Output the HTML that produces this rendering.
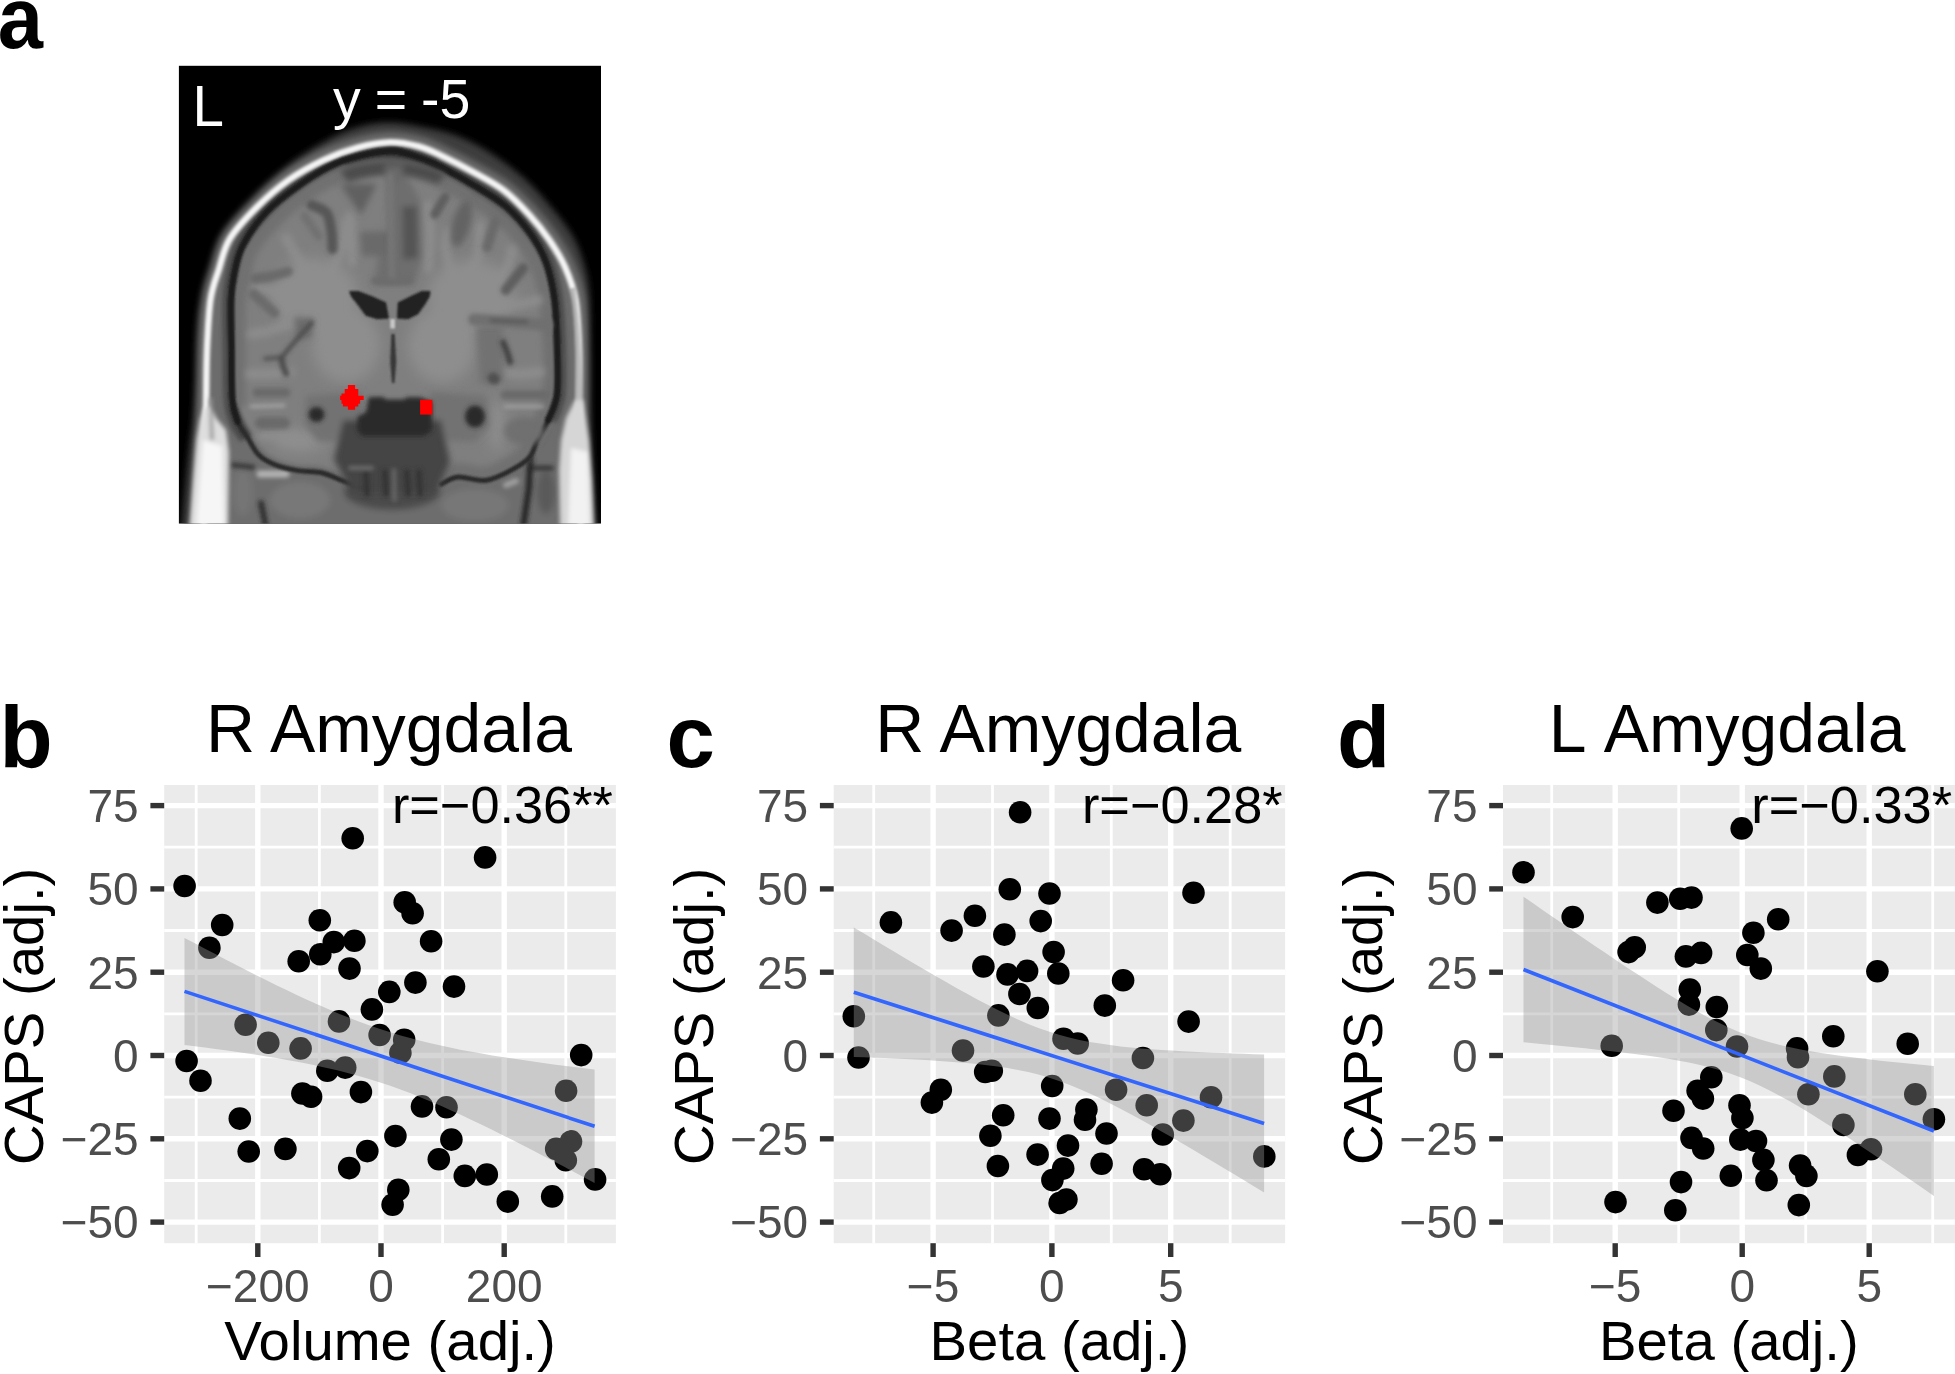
<!DOCTYPE html>
<html lang="en"><head><meta charset="utf-8"><title>Figure</title>
<style>html,body{margin:0;padding:0;background:#fff;width:1955px;height:1374px;overflow:hidden;}svg{display:block;font-family:"Liberation Sans", Arial, Helvetica, sans-serif;}text{white-space:pre;}</style></head><body>
<svg width="1955" height="1374" viewBox="0 0 1955 1374">
<rect width="1955" height="1374" fill="#fff"/>
<text transform="translate(-2.3,47.6) scale(0.925,1)" font-size="88" font-weight="bold" fill="#000">a</text>
<defs>
<clipPath id="mribox"><rect x="178.9" y="65.8" width="422.1" height="457.7"/></clipPath>
<clipPath id="brainclip"><path d="M238.5,400C237.6,388.5 238.2,366.7 238.2,350C238.2,333.3 237.7,312 238.5,300C239.3,288 240.9,286.3 243,278C245.1,269.7 245.3,260 251,250C256.7,240 267.8,227.3 277,218C286.2,208.7 295.7,201.1 306,194C316.3,186.9 328.2,180.1 339,175.5C349.8,170.9 361.7,168.2 371,166.5C380.3,164.8 387.2,164.8 395,165.5C402.8,166.2 411.2,168.4 418,170.5C424.8,172.6 427.3,173.8 435.5,178C443.7,182.2 456.4,189.1 467,195.5C477.6,201.9 489.9,209.1 499,216.5C508.1,223.9 515.1,231.8 521.5,240C527.9,248.2 533.3,255.8 537.5,266C541.7,276.2 544.4,287 546.5,301C548.6,315 549.7,334.5 550.3,350C550.9,365.5 551.3,382.8 550,394C548.7,405.2 545.5,409.9 542.5,417C539.5,424.1 534.9,430.6 532,436.5C529.1,442.4 528.5,448.2 525,452.5C521.5,456.8 517.5,458.9 511,462.5C504.5,466.1 494.8,472.7 486,474C477.2,475.3 465.5,469.8 458,470.5C450.5,471.2 450.7,475.9 441,478C431.3,480.1 412.5,482.4 400,483C387.5,483.6 375.2,482.9 366,481.5C356.8,480.1 352.5,477 345,474.5C337.5,472 328.7,468.1 321,466.5C313.3,464.9 306.2,466.2 299,465C291.8,463.8 284,462 278,459.5C272,457 267.3,454.2 263,450C258.7,445.8 255.2,439.2 252,434C248.8,428.8 245.8,424.7 243.5,419C241.2,413.3 239.4,411.5 238.5,400Z"/></clipPath>
<filter id="b1" x="-30%" y="-30%" width="160%" height="160%"><feGaussianBlur stdDeviation="1.3"/></filter>
<filter id="b2" x="-30%" y="-30%" width="160%" height="160%"><feGaussianBlur stdDeviation="2.2"/></filter>
<filter id="b3" x="-30%" y="-30%" width="160%" height="160%"><feGaussianBlur stdDeviation="3.4"/></filter>
<filter id="b4" x="-30%" y="-30%" width="160%" height="160%"><feGaussianBlur stdDeviation="6.5"/></filter>
</defs>
<g id="mri">
<rect x="178.9" y="65.8" width="422.1" height="457.7" fill="#000"/>
<g clip-path="url(#mribox)">
<g filter="url(#b3)">
<path d="M180,545C180.3,541.3 181,533.8 182,523C183,512.2 184.8,492.7 186,480C187.2,467.3 188.3,457 189.5,447C190.7,437 192,431.2 193,420C194,408.8 194.9,393.3 195.5,380C196.1,366.7 195.9,351.7 196.5,340C197.1,328.3 197.7,318.7 199,310C200.3,301.3 202.5,295 204.5,288C206.5,281 208.1,275.7 211,268C213.9,260.3 216.5,251.8 222.1,241.6C227.7,231.4 235.2,218.3 244.8,206.7C254.4,195.1 268.2,181.7 279.8,171.8C291.4,161.9 303.1,154.3 314.7,147.3C326.3,140.3 337.9,133.9 349.6,129.8C361.3,125.7 373.3,123.1 385,122.5C396.7,121.9 408.3,124.3 419.9,126.4C431.5,128.5 443.1,130.8 454.8,135.1C466.5,139.4 478.1,145.2 489.8,152.5C501.5,159.8 514.5,169.7 524.7,178.7C534.9,187.7 543,197.4 550.9,206.7C558.8,216 566.4,225.4 571.8,234.6C577.2,243.8 580.5,251.9 583.5,262C586.5,272.1 588.4,280.3 589.5,295C590.6,309.7 589.8,329.2 590,350C590.2,370.8 589.9,398.3 590.5,420C591.1,441.7 592.5,462.8 593.5,480C594.5,497.2 595.8,512.2 596.5,523C597.2,533.8 597.8,541.3 598,545Z" fill="#3e3e3e"/>
<path d="M204,545C204,532.5 203.7,492.5 204,470C204.3,447.5 205.5,430 206,410C206.5,390 206.2,368.3 207,350C207.8,331.7 208.6,313.3 210.5,300C212.4,286.7 215.4,280.2 218.7,270C221.9,259.8 223.5,249.1 230,238.5C236.5,227.9 247.8,216.2 257.5,206.5C267.2,196.8 277.3,188 288.2,180.3C299.1,172.6 311.5,165.8 323.1,160.3C334.8,154.8 347,150.5 358.1,147.5C369.2,144.5 379.9,142.5 390,142.3C400.1,142.1 410.5,144.3 419,146.5C427.5,148.7 432,151.2 441,155.5C450,159.8 462.6,166.2 473.1,172C483.6,177.8 494.7,183.4 504,190.5C513.3,197.6 521.5,206.3 529,214.5C536.5,222.7 543,230.8 549,239.5C555,248.2 560.6,256.9 565,267C569.4,277.1 573.2,286.2 575.5,300C577.8,313.8 578.4,331.7 579,350C579.6,368.3 578.8,390 579,410C579.2,430 579.7,447.5 580,470C580.3,492.5 580.8,532.5 581,545" fill="none" stroke="#6c6c6c" stroke-width="19"/>
</g>
<g filter="url(#b1)">
<path d="M204,545C204,532.5 203.7,492.5 204,470C204.3,447.5 205.5,430 206,410C206.5,390 206.2,368.3 207,350C207.8,331.7 208.6,313.3 210.5,300C212.4,286.7 215.4,280.2 218.7,270C221.9,259.8 223.5,249.1 230,238.5C236.5,227.9 247.8,216.2 257.5,206.5C267.2,196.8 277.3,188 288.2,180.3C299.1,172.6 311.5,165.8 323.1,160.3C334.8,154.8 347,150.5 358.1,147.5C369.2,144.5 379.9,142.5 390,142.3C400.1,142.1 410.5,144.3 419,146.5C427.5,148.7 432,151.2 441,155.5C450,159.8 462.6,166.2 473.1,172C483.6,177.8 494.7,183.4 504,190.5C513.3,197.6 521.5,206.3 529,214.5C536.5,222.7 543,230.8 549,239.5C555,248.2 560.6,256.9 565,267C569.4,277.1 573.2,286.2 575.5,300C577.8,313.8 578.4,331.7 579,350C579.6,368.3 578.8,390 579,410C579.2,430 579.7,447.5 580,470C580.3,492.5 580.8,532.5 581,545Z" fill="#6c6c6c"/>
</g>
<g filter="url(#b3)">
<path d="M236,425 L548,425 L566,470 L566,545 L222,545 L226,470Z" fill="#6d6d6d"/>
<ellipse cx="300" cy="500" rx="30" ry="18" fill="#787878"/>
<ellipse cx="475" cy="505" rx="34" ry="16" fill="#777"/>
<ellipse cx="392" cy="492" rx="48" ry="18" fill="#4c4c4c"/>
<ellipse cx="546" cy="492" rx="9" ry="22" fill="#5a5a5a"/>
<ellipse cx="243" cy="492" rx="10" ry="24" fill="#747474"/>
</g>
<g filter="url(#b2)" fill="none" stroke-linecap="round">
<path d="M261,503 L265.5,525" stroke="#2c2c2c" stroke-width="5.5"/>
<path d="M233,465 L253,467.3" stroke="#383838" stroke-width="5"/>
<path d="M531,468 L551.5,468" stroke="#383838" stroke-width="5"/>
<path d="M530.2,458 L529,487.5 L523.4,525" stroke="#282828" stroke-width="6.5"/>
<path d="M260,474 L286,474" stroke="#b4b4b4" stroke-width="7"/>
<path d="M506,485 L516,481" stroke="#a0a0a0" stroke-width="6"/>
</g>
<g filter="url(#b2)">
<path d="M247.5,437.5C245.8,434.8 240,427.8 237.5,421.5C235,415.2 233.3,411.9 232.3,400C231.3,388.1 231.7,366.7 231.5,350C231.3,333.3 230.6,312.5 231,300C231.4,287.5 232.1,284 234,275C235.9,266 237.1,256.5 242.5,246C247.9,235.5 256.9,222.2 266.5,212C276.1,201.8 288.5,192.7 299.9,184.7C311.3,176.7 323.2,169.2 334.8,164C346.4,158.8 359.7,155.7 369.7,153.5C379.7,151.3 386.6,150.3 395,151C403.4,151.7 412.4,155.2 420,157.8C427.6,160.4 431.6,162.3 440.5,166.8C449.4,171.3 462.2,178.2 473.1,184.8C484,191.4 496.5,198.4 506,206.5C515.5,214.6 523.3,223.8 530,233.1C536.7,242.4 541.9,251.2 546,262.3C550.1,273.4 552.7,285.4 554.6,300C556.5,314.6 556.9,334.2 557.3,350C557.7,365.8 558.5,383.3 557,395C555.5,406.7 549.7,415.8 548.2,420" fill="none" stroke="#484848" stroke-width="17"/>
<path d="M470,194 Q501,210 527,242" fill="none" stroke="#4e4e4e" stroke-width="16"/>
<path d="M346,166 Q395,149.5 440,171" fill="none" stroke="#2c2c2c" stroke-width="11"/>
</g>
<g filter="url(#b1)">
<path d="M204,545C204,532.5 203.7,492.5 204,470C204.3,447.5 205.5,430 206,410C206.5,390 206.2,368.3 207,350C207.8,331.7 208.6,313.3 210.5,300C212.4,286.7 215.4,280.2 218.7,270C221.9,259.8 223.5,249.1 230,238.5C236.5,227.9 247.8,216.2 257.5,206.5C267.2,196.8 277.3,188 288.2,180.3C299.1,172.6 311.5,165.8 323.1,160.3C334.8,154.8 347,150.5 358.1,147.5C369.2,144.5 379.9,142.5 390,142.3C400.1,142.1 410.5,144.3 419,146.5C427.5,148.7 432,151.2 441,155.5C450,159.8 462.6,166.2 473.1,172C483.6,177.8 494.7,183.4 504,190.5C513.3,197.6 521.5,206.3 529,214.5C536.5,222.7 543,230.8 549,239.5C555,248.2 560.6,256.9 565,267C569.4,277.1 573.2,286.2 575.5,300C577.8,313.8 578.4,331.7 579,350C579.6,368.3 578.8,390 579,410C579.2,430 579.7,447.5 580,470C580.3,492.5 580.8,532.5 581,545" fill="none" stroke="#a8a8a8" stroke-width="8.6"/>
<path d="M204,545C204,532.5 203.7,492.5 204,470C204.3,447.5 205.5,430 206,410C206.5,390 206.2,368.3 207,350C207.8,331.7 208.6,313.3 210.5,300C212.4,286.7 215.4,280.2 218.7,270C221.9,259.8 223.5,249.1 230,238.5C236.5,227.9 247.8,216.2 257.5,206.5C267.2,196.8 277.3,188 288.2,180.3C299.1,172.6 311.5,165.8 323.1,160.3C334.8,154.8 347,150.5 358.1,147.5C369.2,144.5 379.9,142.5 390,142.3C400.1,142.1 410.5,144.3 419,146.5C427.5,148.7 432,151.2 441,155.5C450,159.8 462.6,166.2 473.1,172C483.6,177.8 494.7,183.4 504,190.5C513.3,197.6 521.5,206.3 529,214.5C536.5,222.7 543,230.8 549,239.5C555,248.2 560.6,256.9 565,267C569.4,277.1 573.2,286.2 575.5,300C577.8,313.8 578.4,331.7 579,350C579.6,368.3 578.8,390 579,410C579.2,430 579.7,447.5 580,470C580.3,492.5 580.8,532.5 581,545" fill="none" stroke="#f4f4f4" stroke-width="4.6"/>
<path d="M572,288 Q579,330 579,408" fill="none" stroke="#8c8c8c" stroke-opacity="0.55" stroke-width="5.5"/>
</g>
<g filter="url(#b2)">
<path d="M238.5,400C237.6,388.5 238.2,366.7 238.2,350C238.2,333.3 237.7,312 238.5,300C239.3,288 240.9,286.3 243,278C245.1,269.7 245.3,260 251,250C256.7,240 267.8,227.3 277,218C286.2,208.7 295.7,201.1 306,194C316.3,186.9 328.2,180.1 339,175.5C349.8,170.9 361.7,168.2 371,166.5C380.3,164.8 387.2,164.8 395,165.5C402.8,166.2 411.2,168.4 418,170.5C424.8,172.6 427.3,173.8 435.5,178C443.7,182.2 456.4,189.1 467,195.5C477.6,201.9 489.9,209.1 499,216.5C508.1,223.9 515.1,231.8 521.5,240C527.9,248.2 533.3,255.8 537.5,266C541.7,276.2 544.4,287 546.5,301C548.6,315 549.7,334.5 550.3,350C550.9,365.5 551.3,382.8 550,394C548.7,405.2 545.5,409.9 542.5,417C539.5,424.1 534.9,430.6 532,436.5C529.1,442.4 528.5,448.2 525,452.5C521.5,456.8 517.5,458.9 511,462.5C504.5,466.1 494.8,472.7 486,474C477.2,475.3 465.5,469.8 458,470.5C450.5,471.2 450.7,475.9 441,478C431.3,480.1 412.5,482.4 400,483C387.5,483.6 375.2,482.9 366,481.5C356.8,480.1 352.5,477 345,474.5C337.5,472 328.7,468.1 321,466.5C313.3,464.9 306.2,466.2 299,465C291.8,463.8 284,462 278,459.5C272,457 267.3,454.2 263,450C258.7,445.8 255.2,439.2 252,434C248.8,428.8 245.8,424.7 243.5,419C241.2,413.3 239.4,411.5 238.5,400Z" fill="#7f7f7f"/>
</g>
<g>
<g filter="url(#b3)" fill="none" stroke-linecap="round" stroke-linejoin="round">
<path d="M238.5,400C238.4,391.7 238.2,366.7 238.2,350C238.2,333.3 237.7,312 238.5,300C239.3,288 240.9,286.3 243,278C245.1,269.7 245.3,260 251,250C256.7,240 267.8,227.3 277,218C286.2,208.7 295.7,201.1 306,194C316.3,186.9 328.2,180.1 339,175.5C349.8,170.9 361.7,168.2 371,166.5C380.3,164.8 387.2,164.8 395,165.5C402.8,166.2 411.2,168.4 418,170.5C424.8,172.6 427.3,173.8 435.5,178C443.7,182.2 456.4,189.1 467,195.5C477.6,201.9 489.9,209.1 499,216.5C508.1,223.9 515.1,231.8 521.5,240C527.9,248.2 533.3,255.8 537.5,266C541.7,276.2 544.4,287 546.5,301C548.6,315 549.7,334.5 550.3,350C550.9,365.5 551.3,382.8 550,394C548.7,405.2 545.5,409.9 542.5,417C539.5,424.1 534.9,430.6 532,436.5C529.1,442.4 528.5,448.2 525,452.5C521.5,456.8 517.5,458.9 511,462.5C504.5,466.1 494.8,472.7 486,474C477.2,475.3 465.5,469.8 458,470.5C450.5,471.2 443.8,476.8 441,478" stroke="#717171" stroke-width="15"/>
</g>
<g filter="url(#b3)" fill="none" stroke="#8c8c8c" stroke-linecap="round" stroke-width="10">
<path d="M318,286C315,282 305.3,270 300,262C294.7,254 288.3,242 286,238"/>
<path d="M330,276C332,271 339.3,255 342,246C344.7,237 345.3,226 346,222"/>
<path d="M300,300C296,298.7 283,294 276,292C269,290 261,288.7 258,288"/>
<path d="M300,318C295.3,320 280,327.3 272,330C264,332.7 255.3,333.3 252,334"/>
<path d="M352,262C352,258 352.3,245.7 352,238C351.7,230.3 350.3,219.7 350,216"/>
<path d="M466,282C468,277.7 475.7,265.3 478,256C480.3,246.7 479.7,231 480,226"/>
<path d="M452,276C451,271.7 446.7,257.3 446,250C445.3,242.7 447.7,235 448,232"/>
<path d="M486,292C489.3,288.3 501.7,277 506,270C510.3,263 511,253.3 512,250"/>
<path d="M492,306C496.7,305.7 512.3,305 520,304C527.7,303 535,300.7 538,300"/>
<path d="M428,268C428.3,262.7 430,246.3 430,236C430,225.7 428.3,211 428,206"/>
<path d="M290,372C286.3,372.3 274.7,373.7 268,374C261.3,374.3 253,374 250,374"/>
<path d="M300,440C296.7,439.3 286.3,436.7 280,436C273.7,435.3 265,436 262,436"/>
<path d="M497,372C500.8,372.3 512.8,374 520,374C527.2,374 536.7,372.3 540,372"/>
</g>
<g filter="url(#b1)">
<path d="M365.7,488C361.9,486.8 350.7,483.4 343.2,480.8C335.7,478.2 328.2,474.2 320.7,472.5C313.2,470.8 305.7,471.9 298.2,470.6C290.7,469.4 282.3,467.6 275.7,465C269.1,462.4 263.5,459.6 258.8,455C254.1,450.4 251.1,443.1 247.5,437.5C243.9,431.9 240,427.8 237.5,421.5C235,415.2 233.2,403.6 232.3,400" fill="none" stroke="#2a2a2a" stroke-width="5" stroke-linecap="round"/>
<path d="M557,395C555.5,399.2 551.5,412.6 548.2,420C545,427.4 540.5,433 537.5,439.1C534.5,445.2 534.1,451.6 530.2,456.5C526.4,461.4 521.7,464.4 514.4,468.4C507.1,472.4 495.7,478.9 486.3,480.3C476.9,481.7 465.6,476.4 458.1,477C450.6,477.6 444.1,482.9 441.3,484.1" fill="none" stroke="#2a2a2a" stroke-width="5" stroke-linecap="round"/>
<path d="M237.5,421.5C236.6,417.9 233.3,411.9 232.3,400C231.3,388.1 231.7,366.7 231.5,350C231.3,333.3 230.6,312.5 231,300C231.4,287.5 232.1,284 234,275C235.9,266 237.1,256.5 242.5,246C247.9,235.5 256.9,222.2 266.5,212C276.1,201.8 288.5,192.7 299.9,184.7C311.3,176.7 323.2,169.2 334.8,164C346.4,158.8 359.7,155.7 369.7,153.5C379.7,151.3 386.6,150.3 395,151C403.4,151.7 412.4,155.2 420,157.8C427.6,160.4 431.6,162.3 440.5,166.8C449.4,171.3 462.2,178.2 473.1,184.8C484,191.4 496.5,198.4 506,206.5C515.5,214.6 523.3,223.8 530,233.1C536.7,242.4 541.9,251.2 546,262.3C550.1,273.4 552.7,285.4 554.6,300C556.5,314.6 556.9,334.2 557.3,350C557.7,365.8 558.5,383.3 557,395C555.5,406.7 549.7,415.8 548.2,420" fill="none" stroke="#1c1c1c" stroke-width="6.8" stroke-linecap="round"/>
</g>
<g filter="url(#b4)" fill="#8e8e8e">
<ellipse cx="314" cy="296" rx="44" ry="38"/>
<ellipse cx="472" cy="296" rx="44" ry="36"/>
<ellipse cx="346" cy="345" rx="34" ry="38"/>
<ellipse cx="442" cy="345" rx="34" ry="38"/>
<ellipse cx="300" cy="440" rx="28" ry="12"/>
<ellipse cx="497" cy="425" rx="8" ry="26"/>
</g>
<g filter="url(#b3)">
<path d="M386,168 L404,170 L420,200 L422,258 L414,284 L374,284 L378,258 L388,240Z" fill="#6e6e6e"/>
<path d="M360,232 L390,231 L391,256 L362,256Z" fill="#6a6a6a"/>
<path d="M402,206 L417,206 L418,258 L403,260Z" fill="#545454"/>
<path d="M340,170 Q394,150 446,174 L438,184 Q394,166 348,182Z" fill="#4c4c4c"/>
<path d="M384,166 L404,166 L398,184 L389,184Z" fill="#6a6a6a"/>
<path d="M340,184 L377,184 L361,215Z" fill="#606060"/>
<ellipse cx="461.5" cy="223.5" rx="9" ry="24" transform="rotate(15 461.5 223.5)" fill="#646464"/>
<path d="M476,326 L503,326 L504,382 L480,384Z" fill="#727272"/>
<path d="M294,317 L314,318 L312,338 L296,340Z" fill="#6c6c6c"/>
<ellipse cx="524" cy="431" rx="20" ry="14" fill="#707070"/>
<path d="M306,396 L362,392 L366,440 L318,442 L304,424Z" fill="#727272"/>
<path d="M430,392 L486,396 L490,426 L474,442 L428,440Z" fill="#727272"/>
<path d="M343,420 L441,420 L450,462 L436,492 L352,492 L334,460Z" fill="#454545"/>
</g>
<g filter="url(#b2)" fill="none" stroke-linecap="round" stroke-linejoin="round">
<path d="M390.5,176C390.6,185 390.8,212.2 391,230C391.2,247.8 391.8,274.2 392,283" stroke="#767676" stroke-width="6"/>
<path d="M374.5,281C377.4,281.2 386.2,282 392,282C397.8,282 406.6,281.2 409.5,281" stroke="#6c6c6c" stroke-width="7"/>
<path d="M311.5,205C314,206.3 323.3,208.5 326.6,213C329.9,217.5 330.5,226 331.5,232C332.5,238 332.3,246.2 332.5,249" stroke="#565656" stroke-width="10"/>
<path d="M304.5,216C306.8,219.3 316.2,232.7 318.5,236" stroke="#727272" stroke-width="9"/>
<path d="M255,278.5C257.8,278.1 266.5,277.2 272,276C277.5,274.8 285.3,272.2 288,271.5" stroke="#6a6a6a" stroke-width="10"/>
<path d="M253.6,294C257.1,297.2 271,309.8 274.5,313" stroke="#6c6c6c" stroke-width="10"/>
<path d="M445.2,197C443.4,199.9 436.4,211.6 434.7,214.5" stroke="#5e5e5e" stroke-width="9"/>
<path d="M495.3,221.5C493.9,225.8 488.5,242.8 487.1,247.1" stroke="#6a6a6a" stroke-width="10"/>
<path d="M523.2,268.1C520.3,271.8 508.6,286.5 505.7,290.2" stroke="#5e5e5e" stroke-width="10"/>
<path d="M474,319.5C480.3,319.9 499.8,321.1 512,322C524.2,322.9 541.2,324.5 547,325" stroke="#707070" stroke-width="12"/>
<path d="M491.5,320.5C497.3,320.7 520.6,321.6 526.4,321.8" stroke="#5a5a5a" stroke-width="4"/>
<path d="M503.1,342.4C503.8,344 505.8,348.7 507,352C508.2,355.3 509.6,360.5 510.1,362.2" stroke="#404040" stroke-width="6"/>
<path d="M493,378C493.2,378.2 494.2,378.8 494.5,379" stroke="#505050" stroke-width="11"/>
<path d="M311.8,322.6C308.7,326.1 298.2,337.8 293.1,343.6C288.1,349.4 283.4,355.2 281.5,357.5" stroke="#4a4a4a" stroke-width="4"/>
<path d="M281.5,357.5C278.8,357.7 267.9,358.5 265.2,358.7" stroke="#565656" stroke-width="4.5"/>
<path d="M281.5,357.5C281.8,358.9 282.2,363.3 283,366C283.8,368.7 285.7,372.5 286.2,373.8" stroke="#4c4c4c" stroke-width="6"/>
<path d="M257,392.5C261.8,392.5 281.2,392.5 286,392.5" stroke="#6a6a6a" stroke-width="9"/>
<path d="M251,406.4C256.5,406.2 278.5,405.6 284,405.5" stroke="#ababab" stroke-width="3"/>
<path d="M261,423C264.8,423 280.2,423 284,423" stroke="#6a6a6a" stroke-width="12"/>
<path d="M505,394.8C511.7,394.8 538.3,394.8 545,394.8" stroke="#6a6a6a" stroke-width="9"/>
<path d="M505,406.4C511.3,406.4 536.7,406.4 543,406.4" stroke="#a4a4a4" stroke-width="3"/>
</g>
<g filter="url(#b1)">
<path d="M349,290.9L358.4,290.9L371.5,296L386.1,302.6L389,318.6L377.3,319.3L365.7,315.7L357,304L351.1,296.8Z" fill="#242424"/>
<path d="M430.5,290.9L421.7,290.9L409.4,296.8L397.7,302.6L397,318.6L407.9,319.3L418.1,314.2L425.4,304L429.7,296.8Z" fill="#242424"/>
<rect x="390.2" y="319" width="4.8" height="9.5" fill="#c8c8c8"/>
<path d="M391.3,334 L394.7,334 L396.3,362 L394.5,383 L392,383 L390.2,362Z" fill="#383838"/>
</g>
<g filter="url(#b2)">
<path d="M368.7,397.2 L383,397 L386,399.5 L404,399.5 L407,397.2 L420.5,397.2 L432,402 L432,417 L431.7,431 L424,436 L362,436 L357.2,430 L357.5,417 L366,412Z" fill="#2a2a2a"/>
<ellipse cx="316.5" cy="414.5" rx="8" ry="7.5" fill="#2c2c2c"/>
<ellipse cx="475" cy="416.5" rx="10" ry="11" fill="#2b2b2b"/>
</g>
<g filter="url(#b2)" fill="none" stroke-linecap="round">
<path d="M366,472 L367,494" stroke="#363636" stroke-width="6"/>
<path d="M385,472 L386,494" stroke="#363636" stroke-width="6"/>
<path d="M407,472 L408,494" stroke="#363636" stroke-width="6"/>
<path d="M419,472 L420,494" stroke="#363636" stroke-width="6"/>
<path d="M394,470 L394.5,500" stroke="#6a6a6a" stroke-width="4"/>
<path d="M350,468 L372,468" stroke="#6e6e6e" stroke-width="4"/>
</g>
</g>
<g filter="url(#b2)">
<path d="M204,408 L211,406 L216,418 L226,430 L229,452 L228,530 L189,530 L193,480 L196.5,440 L200,420Z" fill="#dedede"/>
<path d="M203,440 L222,446 L224,530 L196,530Z" fill="#f6f6f6"/>
<path d="M209,398 L212,398 L214,440 L210,440Z" fill="#9a9a9a"/>
<path d="M575,400 L583,400 L589,440 L592,480 L594,530 L560,530 L559,470 L561,440 L566,418Z" fill="#d6d6d6"/>
<path d="M571,448 L588,452 L590,530 L568,530Z" fill="#f2f2f2"/>
</g>
</g>
<path d="M347.9,385L355.1,385L355.1,389L358.3,389L358.3,395.8L363.7,395.8L363.7,400.1L360.1,400.1L360.1,403.7L358.3,403.7L358.3,406.5L355.1,406.5L355.1,409.7L347.9,409.7L347.9,406.5L342.9,406.5L342.9,403.7L341.5,403.7L341.5,400.1L340.1,400.1L340.1,395.8L341.5,395.8L341.5,393.6L344.7,393.6L344.7,389L347.9,389Z" fill="#ff0000"/>
<rect x="420.1" y="399.8" width="12.3" height="14.8" fill="#ff0000"/>
<text x="192.4" y="126" font-size="56.5" fill="#fff">L</text>
<text x="333" y="118.2" font-size="55.5" word-spacing="-1.5" fill="#fff">y = -5</text>
</g>
<g class="panel" id="panel-b">
<rect x="164.2" y="785" width="451.7" height="458.2" fill="#ebebeb"/>
<g stroke="#fff" stroke-width="2.8">
<line x1="164.2" x2="615.9" y1="847.2" y2="847.2"/>
<line x1="164.2" x2="615.9" y1="930.5" y2="930.5"/>
<line x1="164.2" x2="615.9" y1="1013.9" y2="1013.9"/>
<line x1="164.2" x2="615.9" y1="1097.2" y2="1097.2"/>
<line x1="164.2" x2="615.9" y1="1180.5" y2="1180.5"/>
<line x1="196.2" x2="196.2" y1="785" y2="1243.2"/>
<line x1="319.4" x2="319.4" y1="785" y2="1243.2"/>
<line x1="442.6" x2="442.6" y1="785" y2="1243.2"/>
<line x1="565.8" x2="565.8" y1="785" y2="1243.2"/>
</g>
<g stroke="#fff" stroke-width="5.4">
<line x1="164.2" x2="615.9" y1="805.6" y2="805.6"/>
<line x1="164.2" x2="615.9" y1="888.9" y2="888.9"/>
<line x1="164.2" x2="615.9" y1="972.2" y2="972.2"/>
<line x1="164.2" x2="615.9" y1="1055.5" y2="1055.5"/>
<line x1="164.2" x2="615.9" y1="1138.8" y2="1138.8"/>
<line x1="164.2" x2="615.9" y1="1222.1" y2="1222.1"/>
<line x1="257.8" x2="257.8" y1="785" y2="1243.2"/>
<line x1="381" x2="381" y1="785" y2="1243.2"/>
<line x1="504.2" x2="504.2" y1="785" y2="1243.2"/>
</g>
<g fill="#000">
<circle cx="352.7" cy="838.2" r="11.3"/>
<circle cx="184.6" cy="886" r="11.3"/>
<circle cx="222.2" cy="925" r="11.3"/>
<circle cx="209.4" cy="947.7" r="11.3"/>
<circle cx="319.8" cy="920.3" r="11.3"/>
<circle cx="333.8" cy="942.1" r="11.3"/>
<circle cx="354.4" cy="940.7" r="11.3"/>
<circle cx="320.3" cy="954.3" r="11.3"/>
<circle cx="298.7" cy="961.3" r="11.3"/>
<circle cx="349.5" cy="968.6" r="11.3"/>
<circle cx="389.3" cy="991.9" r="11.3"/>
<circle cx="371.9" cy="1009.4" r="11.3"/>
<circle cx="485.1" cy="857.4" r="11.3"/>
<circle cx="404.7" cy="902.3" r="11.3"/>
<circle cx="412.6" cy="913.3" r="11.3"/>
<circle cx="431.1" cy="941.2" r="11.3"/>
<circle cx="415.4" cy="982.6" r="11.3"/>
<circle cx="454" cy="986.6" r="11.3"/>
<circle cx="245.6" cy="1024.8" r="11.3"/>
<circle cx="268.3" cy="1042.7" r="11.3"/>
<circle cx="300.6" cy="1048.4" r="11.3"/>
<circle cx="339" cy="1021.4" r="11.3"/>
<circle cx="379.6" cy="1035" r="11.3"/>
<circle cx="186.6" cy="1061" r="11.3"/>
<circle cx="200.5" cy="1080.7" r="11.3"/>
<circle cx="327.3" cy="1070.8" r="11.3"/>
<circle cx="345.2" cy="1067.6" r="11.3"/>
<circle cx="302.4" cy="1093.5" r="11.3"/>
<circle cx="311.1" cy="1096.8" r="11.3"/>
<circle cx="360.9" cy="1092.1" r="11.3"/>
<circle cx="239.8" cy="1118.6" r="11.3"/>
<circle cx="248.7" cy="1151.5" r="11.3"/>
<circle cx="285.4" cy="1148.9" r="11.3"/>
<circle cx="367.3" cy="1151.1" r="11.3"/>
<circle cx="349.2" cy="1168.1" r="11.3"/>
<circle cx="395.4" cy="1136.1" r="11.3"/>
<circle cx="398.3" cy="1189.8" r="11.3"/>
<circle cx="392.6" cy="1204.8" r="11.3"/>
<circle cx="404.2" cy="1039.7" r="11.3"/>
<circle cx="400.4" cy="1052.8" r="11.3"/>
<circle cx="581.2" cy="1055.1" r="11.3"/>
<circle cx="566.1" cy="1090.7" r="11.3"/>
<circle cx="422" cy="1106.4" r="11.3"/>
<circle cx="446.5" cy="1107.3" r="11.3"/>
<circle cx="451.4" cy="1139.6" r="11.3"/>
<circle cx="438.8" cy="1159.3" r="11.3"/>
<circle cx="464.8" cy="1175.9" r="11.3"/>
<circle cx="486.8" cy="1174.5" r="11.3"/>
<circle cx="507.8" cy="1201.6" r="11.3"/>
<circle cx="552.2" cy="1196.4" r="11.3"/>
<circle cx="595.1" cy="1179.4" r="11.3"/>
<circle cx="571" cy="1141.4" r="11.3"/>
<circle cx="556.2" cy="1148.9" r="11.3"/>
<circle cx="565.8" cy="1160.2" r="11.3"/>
</g>
<text x="612.9" y="823.0" font-size="52.3" text-anchor="end" fill="#000">r=−0.36**</text>
<polygon fill="#999999" fill-opacity="0.4" points="184.5,937.9 194.8,943.3 205,948.7 215.3,954.1 225.5,959.5 235.8,964.8 246,970 256.3,975.2 266.5,980.3 276.8,985.4 287,990.3 297.3,995.2 307.5,1000 317.8,1004.6 328,1009.1 338.3,1013.4 348.5,1017.5 358.8,1021.5 369,1025.2 379.3,1028.8 389.6,1032.1 399.8,1035.2 410.1,1038.1 420.3,1040.8 430.6,1043.3 440.8,1045.6 451.1,1047.8 461.3,1049.9 471.6,1051.8 481.8,1053.6 492.1,1055.4 502.3,1057 512.6,1058.6 522.8,1060.1 533.1,1061.6 543.3,1063 553.6,1064.4 563.8,1065.7 574.1,1067.1 584.3,1068.3 594.6,1069.6 594.6,1183 584.3,1177.5 574.1,1172.1 563.8,1166.6 553.6,1161.2 543.3,1155.9 533.1,1150.5 522.8,1145.3 512.6,1140 502.3,1134.9 492.1,1129.8 481.8,1124.8 471.6,1119.9 461.3,1115.1 451.1,1110.4 440.8,1105.8 430.6,1101.4 420.3,1097.2 410.1,1093.1 399.8,1089.3 389.6,1085.6 379.3,1082.2 369,1079 358.8,1076 348.5,1073.2 338.3,1070.6 328,1068.2 317.8,1065.9 307.5,1063.8 297.3,1061.8 287,1059.9 276.8,1058.1 266.5,1056.4 256.3,1054.8 246,1053.3 235.8,1051.8 225.5,1050.3 215.3,1048.9 205,1047.5 194.8,1046.2 184.5,1044.9"/>
<line x1="184.5" y1="991.4" x2="594.6" y2="1126.3" stroke="#3366ff" stroke-width="3.6"/>
<g stroke="#333" stroke-width="5.4">
<line x1="150.4" x2="164.2" y1="805.6" y2="805.6"/>
<line x1="150.4" x2="164.2" y1="888.9" y2="888.9"/>
<line x1="150.4" x2="164.2" y1="972.2" y2="972.2"/>
<line x1="150.4" x2="164.2" y1="1055.5" y2="1055.5"/>
<line x1="150.4" x2="164.2" y1="1138.8" y2="1138.8"/>
<line x1="150.4" x2="164.2" y1="1222.1" y2="1222.1"/>
<line x1="257.8" x2="257.8" y1="1243.2" y2="1257"/>
<line x1="381" x2="381" y1="1243.2" y2="1257"/>
<line x1="504.2" x2="504.2" y1="1243.2" y2="1257"/>
</g>
<g fill="#4d4d4d" font-size="46">
<text x="138.7" y="821.9" text-anchor="end">75</text>
<text x="138.7" y="905.2" text-anchor="end">50</text>
<text x="138.7" y="988.5" text-anchor="end">25</text>
<text x="138.7" y="1071.8" text-anchor="end">0</text>
<text x="138.7" y="1155.1" text-anchor="end">−25</text>
<text x="138.7" y="1238.4" text-anchor="end">−50</text>
<text x="257.8" y="1301.5" text-anchor="middle">−200</text>
<text x="381" y="1301.5" text-anchor="middle">0</text>
<text x="504.2" y="1301.5" text-anchor="middle">200</text>
</g>
<text x="388.9" y="752.0" font-size="67.9" text-anchor="middle" fill="#000">R Amygdala</text>
<text x="390" y="1360.3" font-size="56.3" text-anchor="middle" fill="#000">Volume (adj.)</text>
<text transform="translate(43,1016.3) rotate(-90)" font-size="56.3" text-anchor="middle" fill="#000">CAPS (adj.)</text>
<text x="-0.5" y="767" font-size="87" font-weight="bold" fill="#000">b</text>
</g>
<g class="panel" id="panel-c">
<rect x="833.7" y="785" width="451.4" height="458.2" fill="#ebebeb"/>
<g stroke="#fff" stroke-width="2.8">
<line x1="833.7" x2="1285.1" y1="847.2" y2="847.2"/>
<line x1="833.7" x2="1285.1" y1="930.5" y2="930.5"/>
<line x1="833.7" x2="1285.1" y1="1013.9" y2="1013.9"/>
<line x1="833.7" x2="1285.1" y1="1097.2" y2="1097.2"/>
<line x1="833.7" x2="1285.1" y1="1180.5" y2="1180.5"/>
<line x1="873.7" x2="873.7" y1="785" y2="1243.2"/>
<line x1="992.5" x2="992.5" y1="785" y2="1243.2"/>
<line x1="1111.3" x2="1111.3" y1="785" y2="1243.2"/>
<line x1="1230.2" x2="1230.2" y1="785" y2="1243.2"/>
</g>
<g stroke="#fff" stroke-width="5.4">
<line x1="833.7" x2="1285.1" y1="805.6" y2="805.6"/>
<line x1="833.7" x2="1285.1" y1="888.9" y2="888.9"/>
<line x1="833.7" x2="1285.1" y1="972.2" y2="972.2"/>
<line x1="833.7" x2="1285.1" y1="1055.5" y2="1055.5"/>
<line x1="833.7" x2="1285.1" y1="1138.8" y2="1138.8"/>
<line x1="833.7" x2="1285.1" y1="1222.1" y2="1222.1"/>
<line x1="933.1" x2="933.1" y1="785" y2="1243.2"/>
<line x1="1051.9" x2="1051.9" y1="785" y2="1243.2"/>
<line x1="1170.7" x2="1170.7" y1="785" y2="1243.2"/>
</g>
<g fill="#000">
<circle cx="1020.1" cy="812.3" r="11.3"/>
<circle cx="1009.8" cy="889.2" r="11.3"/>
<circle cx="1049.5" cy="893.5" r="11.3"/>
<circle cx="974.9" cy="915.7" r="11.3"/>
<circle cx="1040.7" cy="921.1" r="11.3"/>
<circle cx="890.9" cy="922.4" r="11.3"/>
<circle cx="951.6" cy="930.6" r="11.3"/>
<circle cx="1004.4" cy="934.6" r="11.3"/>
<circle cx="1053.6" cy="952.1" r="11.3"/>
<circle cx="983.4" cy="966.5" r="11.3"/>
<circle cx="1007.5" cy="974.4" r="11.3"/>
<circle cx="1027.1" cy="970.9" r="11.3"/>
<circle cx="1058.3" cy="973.5" r="11.3"/>
<circle cx="1019.4" cy="994" r="11.3"/>
<circle cx="1037.8" cy="1008" r="11.3"/>
<circle cx="853.8" cy="1016.2" r="11.3"/>
<circle cx="998.4" cy="1015.4" r="11.3"/>
<circle cx="1193.5" cy="892.7" r="11.3"/>
<circle cx="1123.1" cy="980.3" r="11.3"/>
<circle cx="1104.8" cy="1005.6" r="11.3"/>
<circle cx="1188.6" cy="1021.6" r="11.3"/>
<circle cx="858.5" cy="1057.5" r="11.3"/>
<circle cx="963" cy="1050.5" r="11.3"/>
<circle cx="985.2" cy="1072" r="11.3"/>
<circle cx="991.8" cy="1070.8" r="11.3"/>
<circle cx="940.8" cy="1089.8" r="11.3"/>
<circle cx="931.9" cy="1102.6" r="11.3"/>
<circle cx="1003.2" cy="1115.3" r="11.3"/>
<circle cx="990.4" cy="1135.8" r="11.3"/>
<circle cx="1049.5" cy="1118.6" r="11.3"/>
<circle cx="1052.2" cy="1086" r="11.3"/>
<circle cx="1063.5" cy="1038.8" r="11.3"/>
<circle cx="1037.6" cy="1154.6" r="11.3"/>
<circle cx="997.9" cy="1166" r="11.3"/>
<circle cx="1068" cy="1145.6" r="11.3"/>
<circle cx="1063.2" cy="1168.6" r="11.3"/>
<circle cx="1052.4" cy="1180.1" r="11.3"/>
<circle cx="1059.6" cy="1203" r="11.3"/>
<circle cx="1077.7" cy="1043.5" r="11.3"/>
<circle cx="1142.9" cy="1058" r="11.3"/>
<circle cx="1116.1" cy="1089.8" r="11.3"/>
<circle cx="1146.7" cy="1105.2" r="11.3"/>
<circle cx="1211" cy="1097.3" r="11.3"/>
<circle cx="1183.4" cy="1120.6" r="11.3"/>
<circle cx="1162.8" cy="1134.5" r="11.3"/>
<circle cx="1264.3" cy="1156.4" r="11.3"/>
<circle cx="1086.4" cy="1109.6" r="11.3"/>
<circle cx="1085" cy="1119.7" r="11.3"/>
<circle cx="1106.5" cy="1133.5" r="11.3"/>
<circle cx="1101.6" cy="1163.7" r="11.3"/>
<circle cx="1144.1" cy="1169.3" r="11.3"/>
<circle cx="1160.3" cy="1174.2" r="11.3"/>
<circle cx="1066.4" cy="1199.5" r="11.3"/>
</g>
<text x="1282.6" y="823.0" font-size="52.3" text-anchor="end" fill="#000">r=−0.28*</text>
<polygon fill="#999999" fill-opacity="0.4" points="853.8,927.4 864.1,933.6 874.3,939.8 884.6,946 894.8,952.1 905.1,958.2 915.3,964.3 925.6,970.3 935.9,976.2 946.1,982.1 956.4,987.9 966.6,993.6 976.9,999.2 987.1,1004.6 997.4,1009.8 1007.7,1014.8 1017.9,1019.5 1028.2,1023.9 1038.4,1028 1048.7,1031.6 1059,1034.8 1069.2,1037.5 1079.5,1039.9 1089.7,1041.9 1100,1043.6 1110.2,1045.1 1120.5,1046.4 1130.8,1047.4 1141,1048.4 1151.3,1049.2 1161.5,1049.9 1171.8,1050.6 1182,1051.2 1192.3,1051.7 1202.6,1052.2 1212.8,1052.7 1223.1,1053.1 1233.3,1053.5 1243.6,1053.8 1253.8,1054.2 1264.1,1054.5 1264.1,1192.5 1253.8,1186.3 1243.6,1180 1233.3,1173.8 1223.1,1167.7 1212.8,1161.5 1202.6,1155.4 1192.3,1149.3 1182,1143.3 1171.8,1137.3 1161.5,1131.4 1151.3,1125.6 1141,1119.8 1130.8,1114.2 1120.5,1108.7 1110.2,1103.4 1100,1098.3 1089.7,1093.5 1079.5,1088.9 1069.2,1084.7 1059,1080.9 1048.7,1077.6 1038.4,1074.6 1028.2,1072.1 1017.9,1069.9 1007.7,1068.1 997.4,1066.5 987.1,1065.2 976.9,1064 966.6,1063 956.4,1062.2 946.1,1061.4 935.9,1060.7 925.6,1060.1 915.3,1059.5 905.1,1059 894.8,1058.6 884.6,1058.1 874.3,1057.7 864.1,1057.3 853.8,1057"/>
<line x1="853.8" y1="992.2" x2="1264.1" y2="1123.5" stroke="#3366ff" stroke-width="3.6"/>
<g stroke="#333" stroke-width="5.4">
<line x1="819.9" x2="833.7" y1="805.6" y2="805.6"/>
<line x1="819.9" x2="833.7" y1="888.9" y2="888.9"/>
<line x1="819.9" x2="833.7" y1="972.2" y2="972.2"/>
<line x1="819.9" x2="833.7" y1="1055.5" y2="1055.5"/>
<line x1="819.9" x2="833.7" y1="1138.8" y2="1138.8"/>
<line x1="819.9" x2="833.7" y1="1222.1" y2="1222.1"/>
<line x1="933.1" x2="933.1" y1="1243.2" y2="1257"/>
<line x1="1051.9" x2="1051.9" y1="1243.2" y2="1257"/>
<line x1="1170.7" x2="1170.7" y1="1243.2" y2="1257"/>
</g>
<g fill="#4d4d4d" font-size="46">
<text x="808.2" y="821.9" text-anchor="end">75</text>
<text x="808.2" y="905.2" text-anchor="end">50</text>
<text x="808.2" y="988.5" text-anchor="end">25</text>
<text x="808.2" y="1071.8" text-anchor="end">0</text>
<text x="808.2" y="1155.1" text-anchor="end">−25</text>
<text x="808.2" y="1238.4" text-anchor="end">−50</text>
<text x="933.1" y="1301.5" text-anchor="middle">−5</text>
<text x="1051.9" y="1301.5" text-anchor="middle">0</text>
<text x="1170.7" y="1301.5" text-anchor="middle">5</text>
</g>
<text x="1058.3" y="752.0" font-size="67.9" text-anchor="middle" fill="#000">R Amygdala</text>
<text x="1059.4" y="1360.3" font-size="56.3" text-anchor="middle" fill="#000">Beta (adj.)</text>
<text transform="translate(712.5,1016.3) rotate(-90)" font-size="56.3" text-anchor="middle" fill="#000">CAPS (adj.)</text>
<text x="666.5" y="767" font-size="87" font-weight="bold" fill="#000">c</text>
</g>
<g class="panel" id="panel-d">
<rect x="1503" y="785" width="452" height="458.2" fill="#ebebeb"/>
<g stroke="#fff" stroke-width="2.8">
<line x1="1503" x2="1955" y1="847.2" y2="847.2"/>
<line x1="1503" x2="1955" y1="930.5" y2="930.5"/>
<line x1="1503" x2="1955" y1="1013.9" y2="1013.9"/>
<line x1="1503" x2="1955" y1="1097.2" y2="1097.2"/>
<line x1="1503" x2="1955" y1="1180.5" y2="1180.5"/>
<line x1="1551.7" x2="1551.7" y1="785" y2="1243.2"/>
<line x1="1678.7" x2="1678.7" y1="785" y2="1243.2"/>
<line x1="1805.7" x2="1805.7" y1="785" y2="1243.2"/>
<line x1="1932.7" x2="1932.7" y1="785" y2="1243.2"/>
</g>
<g stroke="#fff" stroke-width="5.4">
<line x1="1503" x2="1955" y1="805.6" y2="805.6"/>
<line x1="1503" x2="1955" y1="888.9" y2="888.9"/>
<line x1="1503" x2="1955" y1="972.2" y2="972.2"/>
<line x1="1503" x2="1955" y1="1055.5" y2="1055.5"/>
<line x1="1503" x2="1955" y1="1138.8" y2="1138.8"/>
<line x1="1503" x2="1955" y1="1222.1" y2="1222.1"/>
<line x1="1615.2" x2="1615.2" y1="785" y2="1243.2"/>
<line x1="1742.2" x2="1742.2" y1="785" y2="1243.2"/>
<line x1="1869.2" x2="1869.2" y1="785" y2="1243.2"/>
</g>
<g fill="#000">
<circle cx="1523.5" cy="872.2" r="11.3"/>
<circle cx="1572.7" cy="917.1" r="11.3"/>
<circle cx="1657.4" cy="902.6" r="11.3"/>
<circle cx="1680.2" cy="898.8" r="11.3"/>
<circle cx="1691.5" cy="897.6" r="11.3"/>
<circle cx="1634.7" cy="947.3" r="11.3"/>
<circle cx="1628.6" cy="952.1" r="11.3"/>
<circle cx="1685.9" cy="956.4" r="11.3"/>
<circle cx="1701.1" cy="952.9" r="11.3"/>
<circle cx="1689.8" cy="989.6" r="11.3"/>
<circle cx="1688.9" cy="1004.6" r="11.3"/>
<circle cx="1716.8" cy="1007" r="11.3"/>
<circle cx="1741.7" cy="828.4" r="11.3"/>
<circle cx="1778.2" cy="919.2" r="11.3"/>
<circle cx="1753.4" cy="932.8" r="11.3"/>
<circle cx="1747.3" cy="955" r="11.3"/>
<circle cx="1760.8" cy="968.6" r="11.3"/>
<circle cx="1877.4" cy="971.3" r="11.3"/>
<circle cx="1716.3" cy="1030.1" r="11.3"/>
<circle cx="1737" cy="1046.5" r="11.3"/>
<circle cx="1611.7" cy="1045.8" r="11.3"/>
<circle cx="1711.3" cy="1077.2" r="11.3"/>
<circle cx="1697.6" cy="1090.7" r="11.3"/>
<circle cx="1702.9" cy="1098.6" r="11.3"/>
<circle cx="1673.5" cy="1110.8" r="11.3"/>
<circle cx="1691.5" cy="1137.9" r="11.3"/>
<circle cx="1703.2" cy="1148.5" r="11.3"/>
<circle cx="1681" cy="1182.1" r="11.3"/>
<circle cx="1730.8" cy="1175.8" r="11.3"/>
<circle cx="1615.5" cy="1202.1" r="11.3"/>
<circle cx="1675.3" cy="1210.3" r="11.3"/>
<circle cx="1797.1" cy="1048.4" r="11.3"/>
<circle cx="1798" cy="1057.2" r="11.3"/>
<circle cx="1833.3" cy="1036.2" r="11.3"/>
<circle cx="1907.7" cy="1043.7" r="11.3"/>
<circle cx="1834.3" cy="1076.4" r="11.3"/>
<circle cx="1808.4" cy="1094.2" r="11.3"/>
<circle cx="1915.3" cy="1094.2" r="11.3"/>
<circle cx="1933.9" cy="1119.2" r="11.3"/>
<circle cx="1843.4" cy="1124.9" r="11.3"/>
<circle cx="1871" cy="1149.2" r="11.3"/>
<circle cx="1857.9" cy="1155" r="11.3"/>
<circle cx="1739.5" cy="1105.2" r="11.3"/>
<circle cx="1742.4" cy="1117.9" r="11.3"/>
<circle cx="1740.3" cy="1139.6" r="11.3"/>
<circle cx="1756" cy="1141" r="11.3"/>
<circle cx="1763.4" cy="1159.9" r="11.3"/>
<circle cx="1766.5" cy="1180.3" r="11.3"/>
<circle cx="1800.1" cy="1165.5" r="11.3"/>
<circle cx="1806.4" cy="1175.9" r="11.3"/>
<circle cx="1798.8" cy="1205.1" r="11.3"/>
</g>
<text x="1952" y="823.0" font-size="52.3" text-anchor="end" fill="#000">r=−0.33*</text>
<polygon fill="#999999" fill-opacity="0.4" points="1523.5,896.7 1533.8,903.8 1544,910.9 1554.3,918 1564.5,925.1 1574.8,932.2 1585.1,939.2 1595.3,946.2 1605.6,953.1 1615.8,960 1626.1,966.9 1636.4,973.6 1646.6,980.3 1656.9,986.9 1667.1,993.4 1677.4,999.7 1687.7,1005.9 1697.9,1011.8 1708.2,1017.4 1718.4,1022.6 1728.7,1027.5 1739,1031.9 1749.2,1035.8 1759.5,1039.3 1769.7,1042.3 1780,1045 1790.3,1047.3 1800.5,1049.4 1810.8,1051.3 1821,1052.9 1831.3,1054.5 1841.6,1055.9 1851.8,1057.3 1862.1,1058.5 1872.3,1059.7 1882.6,1060.9 1892.9,1062 1903.1,1063.1 1913.4,1064.1 1923.6,1065.1 1933.9,1066.1 1933.9,1195.9 1923.6,1188.8 1913.4,1181.7 1903.1,1174.7 1892.9,1167.7 1882.6,1160.7 1872.3,1153.8 1862.1,1146.9 1851.8,1140.1 1841.6,1133.4 1831.3,1126.8 1821,1120.2 1810.8,1113.8 1800.5,1107.6 1790.3,1101.6 1780,1095.9 1769.7,1090.5 1759.5,1085.4 1749.2,1080.8 1739,1076.7 1728.7,1073 1718.4,1069.8 1708.2,1067 1697.9,1064.5 1687.7,1062.3 1677.4,1060.4 1667.1,1058.6 1656.9,1057 1646.6,1055.6 1636.4,1054.2 1626.1,1052.9 1615.8,1051.7 1605.6,1050.5 1595.3,1049.4 1585.1,1048.3 1574.8,1047.2 1564.5,1046.2 1554.3,1045.2 1544,1044.2 1533.8,1043.2 1523.5,1042.3"/>
<line x1="1523.5" y1="969.5" x2="1933.9" y2="1131" stroke="#3366ff" stroke-width="3.6"/>
<g stroke="#333" stroke-width="5.4">
<line x1="1489.2" x2="1503" y1="805.6" y2="805.6"/>
<line x1="1489.2" x2="1503" y1="888.9" y2="888.9"/>
<line x1="1489.2" x2="1503" y1="972.2" y2="972.2"/>
<line x1="1489.2" x2="1503" y1="1055.5" y2="1055.5"/>
<line x1="1489.2" x2="1503" y1="1138.8" y2="1138.8"/>
<line x1="1489.2" x2="1503" y1="1222.1" y2="1222.1"/>
<line x1="1615.2" x2="1615.2" y1="1243.2" y2="1257"/>
<line x1="1742.2" x2="1742.2" y1="1243.2" y2="1257"/>
<line x1="1869.2" x2="1869.2" y1="1243.2" y2="1257"/>
</g>
<g fill="#4d4d4d" font-size="46">
<text x="1477.5" y="821.9" text-anchor="end">75</text>
<text x="1477.5" y="905.2" text-anchor="end">50</text>
<text x="1477.5" y="988.5" text-anchor="end">25</text>
<text x="1477.5" y="1071.8" text-anchor="end">0</text>
<text x="1477.5" y="1155.1" text-anchor="end">−25</text>
<text x="1477.5" y="1238.4" text-anchor="end">−50</text>
<text x="1615.2" y="1301.5" text-anchor="middle">−5</text>
<text x="1742.2" y="1301.5" text-anchor="middle">0</text>
<text x="1869.2" y="1301.5" text-anchor="middle">5</text>
</g>
<text x="1727.2" y="752.0" font-size="67.9" text-anchor="middle" word-spacing="4.5" fill="#000">L Amygdala</text>
<text x="1728.8" y="1360.3" font-size="56.3" text-anchor="middle" fill="#000">Beta (adj.)</text>
<text transform="translate(1382,1016.3) rotate(-90)" font-size="56.3" text-anchor="middle" fill="#000">CAPS (adj.)</text>
<text x="1337" y="767" font-size="87" font-weight="bold" fill="#000">d</text>
</g>
</svg></body></html>
